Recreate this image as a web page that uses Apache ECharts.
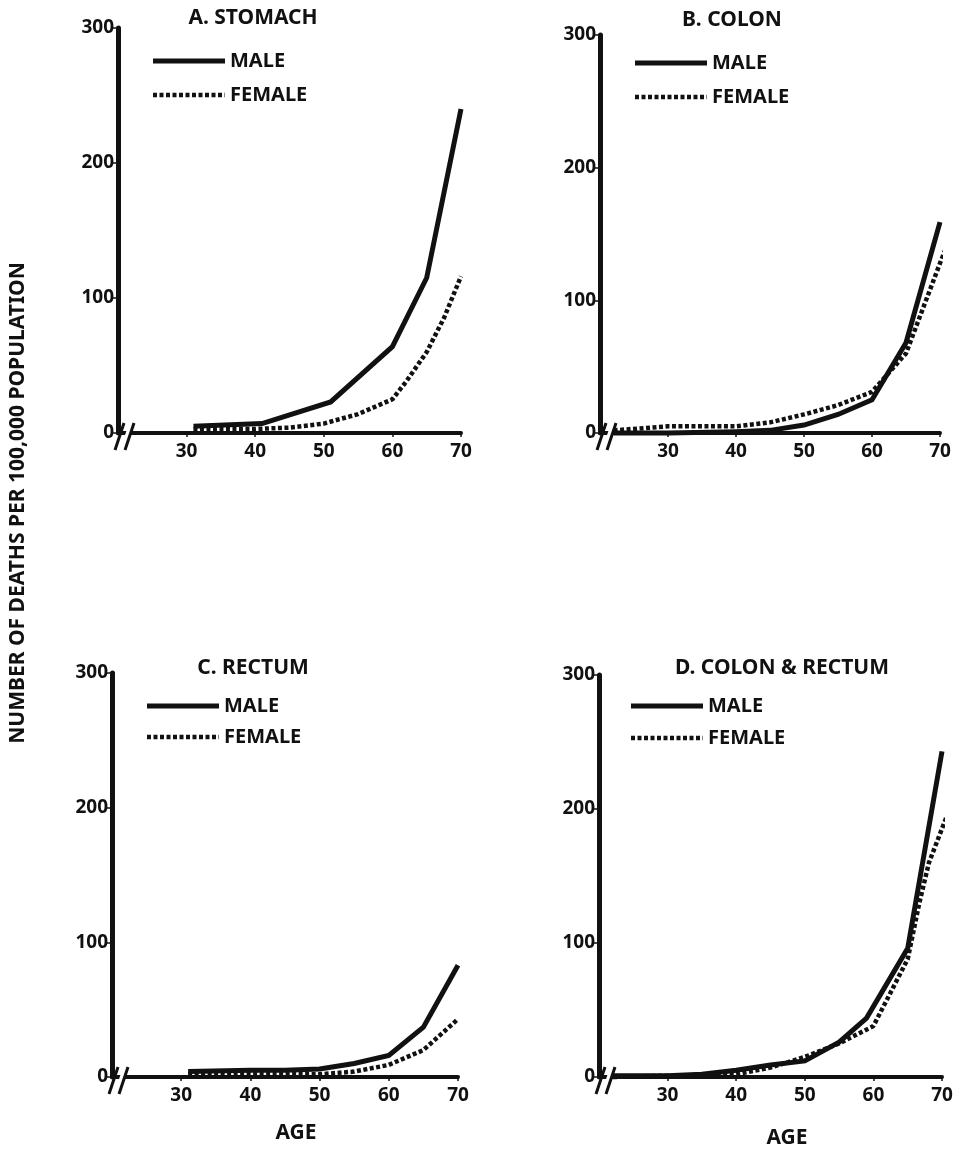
<!DOCTYPE html>
<html><head><meta charset="utf-8">
<script src="https://cdn.jsdelivr.net/npm/echarts@6/dist/echarts.min.js"></script>
<style>html,body{margin:0;padding:0;background:#fff}#c{width:961px;height:1150px}</style>
</head><body><div id="c"></div>
<script>
// ---- data ----
const panelTitles = ['A. STOMACH', 'B. COLON', 'C. RECTUM', 'D. COLON & RECTUM'];
const seriesNames = ['MALE', 'FEMALE'];
const xTickValues = [30, 40, 50, 60, 70];
const yTickValues = [0, 100, 200, 300];
const yAxisTitle = 'NUMBER OF DEATHS PER 100,000 POPULATION';
const xAxisTitle = 'AGE';

const stomachMaleAge = [31, 41, 51, 60, 65, 70];
const stomachMale = [5, 7, 23, 64, 115, 240];
const stomachFemaleAge = [31, 40, 45, 50, 55, 60, 62, 65, 67.5, 70];
const stomachFemale = [3, 3, 4, 7, 14, 25, 38, 60, 85, 116];

const colonMaleAge = [22, 30, 40, 45, 50, 55, 60, 65, 70];
const colonMale = [0, 0, 1, 2, 6, 14, 25, 68, 159];
const colonFemaleAge = [22, 30, 40, 45, 50, 55, 60, 65, 70, 71.7];
const colonFemale = [2, 5, 5, 8, 14, 21, 31, 60, 128, 150];

const rectumMaleAge = [31, 40, 45, 50, 55, 60, 65, 70];
const rectumMale = [4, 5, 5, 6, 10, 16, 37, 83];
const rectumFemaleAge = [31, 40, 50, 55, 60, 65, 70];
const rectumFemale = [2, 2, 2, 4, 9, 20, 43];

const crMaleAge = [22, 30, 35, 40, 45, 50, 55, 59, 65, 70];
const crMale = [1, 1, 2, 5, 9, 12, 26, 44, 96, 243];
const crFemaleAge = [22, 30, 40, 45, 50, 55, 60, 65, 66.7, 68.1, 70.8];
const crFemale = [0, 1, 2, 7, 15, 25, 38, 88, 130, 160, 196];

// ---- build ----
const FONT = '"Noto Sans", Lato, sans-serif';
const INK = '#111';
const panels = [
  {m: [stomachMaleAge, stomachMale], f: [stomachFemaleAge, stomachFemale]},
  {m: [colonMaleAge, colonMale], f: [colonFemaleAge, colonFemale]},
  {m: [rectumMaleAge, rectumMale], f: [rectumFemaleAge, rectumFemale]},
  {m: [crMaleAge, crMale], f: [crFemaleAge, crFemale]}
];
const gridBoxes = [
  {left: 118, top: 28, width: 343, height: 405},
  {left: 600, top: 35, width: 340, height: 398},
  {left: 112, top: 673, width: 346, height: 404},
  {left: 599, top: 675, width: 343, height: 402}
];
const titlePos = [[253, 18], [732, 20], [253, 668], [782, 668]];
const legendPos = [[153, 61, 34], [635, 63, 34], [147, 706, 31], [631, 706, 32]];
const agePos = [null, null, [296, 1133], [787, 1138]];

const pairs = (xs, ys) => xs.map((x, i) => [x, ys[i]]);

const grid = gridBoxes.map(g => Object.assign({outerBoundsMode: 'none'}, g));
const xAxis = gridBoxes.map((g, i) => ({
  type: 'value', gridIndex: i, min: 20, max: 70, interval: 10,
  axisLine: {show: true, lineStyle: {color: INK, width: 4}},
  axisTick: {show: true, length: 4, lineStyle: {color: INK, width: 1.5},
    customValues: xTickValues},
  axisLabel: {show: true, color: INK, fontFamily: FONT, fontWeight: 'bold', fontSize: 19,
    margin: 9, customValues: xTickValues,
    formatter: v => (xTickValues.indexOf(v) >= 0 ? String(v) : '')},
  splitLine: {show: false}
}));
const yAxis = gridBoxes.map((g, i) => ({
  type: 'value', gridIndex: i, min: 0, max: 300, interval: 100,
  axisLine: {show: true, lineStyle: {color: INK, width: 5}},
  axisTick: {show: true, length: 5, lineStyle: {color: INK, width: 1.5}},
  axisLabel: {show: true, color: INK, fontFamily: FONT, fontWeight: 'bold', fontSize: 19, margin: 4,
    formatter: v => (yTickValues.indexOf(v) >= 0 ? String(v) : '')},
  splitLine: {show: false}
}));
const series = [];
panels.forEach((p, i) => {
  series.push({
    name: seriesNames[0], type: 'line', xAxisIndex: i, yAxisIndex: i, clip: false,
    symbol: 'none', data: pairs(p.m[0], p.m[1]), z: 3,
    lineStyle: {color: INK, width: 5, cap: 'butt', join: 'miter'}
  });
  series.push({
    name: seriesNames[1], type: 'line', xAxisIndex: i, yAxisIndex: i, clip: false,
    symbol: 'none', data: pairs(p.f[0], p.f[1]), z: 4,
    lineStyle: {color: INK, width: 4.5, type: [4, 2.5], cap: 'butt'}
  });
});

const chart = echarts.init(document.getElementById('c'), null, {renderer: 'canvas'});
chart.setOption({animation: false, backgroundColor: '#fff', grid, xAxis, yAxis, series});

const txt = (x, y, text, size, align, extra) => Object.assign({
  type: 'text', x, y, z: 10,
  style: {text, font: 'bold ' + size + 'px ' + FONT, fill: INK,
    align: align || 'center', verticalAlign: 'middle',
    textAlign: align || 'center', textVerticalAlign: 'middle'}
}, extra || {});

const graphic = [];
panelTitles.forEach((t, i) => graphic.push(txt(titlePos[i][0], titlePos[i][1], t, 21)));
legendPos.forEach(([x, y, dy]) => {
  graphic.push({type: 'line', z: 10, shape: {x1: x, y1: y, x2: x + 72, y2: y},
    style: {stroke: INK, lineWidth: 5}});
  graphic.push(txt(x + 77, y, seriesNames[0], 20, 'left'));
  graphic.push({type: 'line', z: 10, shape: {x1: x, y1: y + dy, x2: x + 72, y2: y + dy},
    style: {stroke: INK, lineWidth: 4.5, lineDash: [4, 2.5]}});
  graphic.push(txt(x + 77, y + dy, seriesNames[1], 20, 'left'));
});
agePos.forEach(p => { if (p) graphic.push(txt(p[0], p[1], xAxisTitle, 21)); });
graphic.push(txt(18, 503, yAxisTitle, 21, 'center', {rotation: Math.PI / 2}));

// axis break marks "//" at each origin
gridBoxes.forEach((g, i) => {
  const o = chart.convertToPixel({xAxisIndex: i, yAxisIndex: i}, [20, 0]);
  const ox = o[0], oy = o[1];
  graphic.push({type: 'polygon', z: 9,
    shape: {points: [[ox + 3, oy + 13], [ox + 11, oy - 9], [ox + 16, oy - 9], [ox + 8, oy + 13]]},
    style: {fill: '#fff'}});
  graphic.push({type: 'line', z: 10, shape: {x1: ox - 3, y1: oy + 17, x2: ox + 6, y2: oy - 10},
    style: {stroke: INK, lineWidth: 3}});
  graphic.push({type: 'line', z: 10, shape: {x1: ox + 7, y1: oy + 17, x2: ox + 16, y2: oy - 10},
    style: {stroke: INK, lineWidth: 3}});
});
chart.setOption({graphic});
</script></body></html>
